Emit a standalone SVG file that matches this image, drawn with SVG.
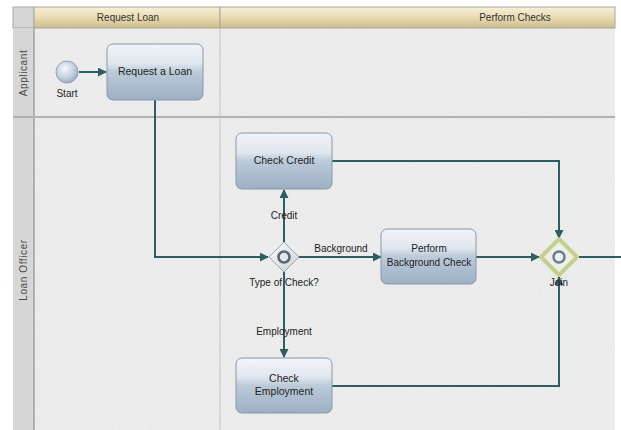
<svg xmlns="http://www.w3.org/2000/svg" width="621" height="430" viewBox="0 0 621 430">
<defs>
<linearGradient id="hdr" x1="0" y1="0" x2="0" y2="1">
<stop offset="0" stop-color="#f7f0d8"/><stop offset="0.5" stop-color="#e9dcb2"/><stop offset="1" stop-color="#cdbb8a"/>
</linearGradient>
<linearGradient id="task" x1="0" y1="0" x2="0" y2="1">
<stop offset="0" stop-color="#f2f5f8"/><stop offset="0.35" stop-color="#dfe6ee"/><stop offset="0.5" stop-color="#bccad9"/><stop offset="1" stop-color="#9cafc4"/>
</linearGradient>
<radialGradient id="startg" cx="0.4" cy="0.35" r="0.7">
<stop offset="0" stop-color="#f4f7fa"/><stop offset="0.6" stop-color="#c3d0de"/><stop offset="1" stop-color="#93a6bb"/>
</radialGradient>
<linearGradient id="gw" x1="0" y1="0" x2="1" y2="1">
<stop offset="0" stop-color="#ffffff"/><stop offset="1" stop-color="#c9d0d6"/>
</linearGradient>
<filter id="noise" x="0" y="0" width="100%" height="100%">
<feTurbulence type="fractalNoise" baseFrequency="0.9" numOctaves="2" seed="3" result="n"/>
<feColorMatrix in="n" type="matrix" values="0 0 0 0 1  0 0 0 0 1  0 0 0 0 1  0 0 0 1.2 -0.5" result="w"/>
<feComposite in="w" in2="SourceGraphic" operator="in"/>
</filter>
<marker id="arr" viewBox="0 0 10 10" refX="9" refY="5" markerWidth="4.5" markerHeight="4.5" orient="auto">
<path d="M0,0 L10,5 L0,10 z" fill="#2e5d62"/>
</marker>
</defs>
<style>
text{font-family:"Liberation Sans",Arial,sans-serif;font-size:10px;fill:#222;text-anchor:middle}
.hdrt{font-size:10px;fill:#333}
.lane{font-size:10px;fill:#4a4a4a;letter-spacing:0.6px}
.tt{font-size:10.5px}
.task{fill:url(#task);stroke:#8797a8;stroke-width:1}
.conn{fill:none;stroke:#2e5d62;stroke-width:2}
.arrow{marker-end:url(#arr)}
</style>
<rect x="0" y="0" width="621" height="430" fill="#ffffff"/>
<rect x="13" y="7" width="602" height="423" fill="#eaeaea"/>
<rect x="34" y="28" width="581" height="402" fill="#ececec" filter="url(#noise)" opacity="0.6"/>
<rect x="13" y="7" width="21" height="21" fill="#d6d6d6" stroke="#a8a8a8" stroke-width="1"/>
<rect x="34" y="7" width="186" height="21" fill="url(#hdr)" stroke="#a8a59a" stroke-width="1"/>
<rect x="220" y="7" width="395" height="21" fill="url(#hdr)" stroke="#a8a59a" stroke-width="1"/>
<text class="hdrt" x="128" y="21">Request Loan</text>
<text class="hdrt" x="515" y="21">Perform Checks</text>
<rect x="13" y="28" width="21" height="402" fill="#d6d6d6"/>
<line x1="34" y1="28" x2="34" y2="430" stroke="#a0a0a0" stroke-width="1.5"/>
<text class="lane" transform="translate(27,73) rotate(-90)">Applicant</text>
<text class="lane" transform="translate(27,270) rotate(-90)">Loan Officer</text>
<line x1="13" y1="117" x2="615" y2="117" stroke="#b2b2b2" stroke-width="2"/>
<line x1="220" y1="28" x2="220" y2="430" stroke="#c4c4c4" stroke-width="1"/>
<g id="connectors">
<path class="conn arrow" d="M79,72 H106"/>
<path class="conn arrow" d="M155,100 V257 H268"/>
<path class="conn arrow" d="M284,242 V190"/>
<path class="conn arrow" d="M299,257 H381"/>
<path class="conn arrow" d="M284,272 V357"/>
<path class="conn arrow" d="M332,161 H559 V238"/>
<path class="conn arrow" d="M476,257 H539"/>
<path class="conn arrow" d="M332,386 H559 V277"/>
<path class="conn" d="M579,257 H621"/>
<text x="284" y="219">Credit</text>
<text x="341" y="252">Background</text>
<text x="284" y="335">Employment</text>
</g>
<g id="start">
<circle cx="67" cy="72" r="11" fill="url(#startg)" stroke="#8fa0b2" stroke-width="1"/>
<text x="67" y="97">Start</text>
</g>
<g id="request-loan">
<rect class="task" x="107" y="44" width="96" height="56" rx="6"/>
<text class="tt" x="155" y="75">Request a Loan</text>
</g>
<g id="check-credit">
<rect class="task" x="236" y="133" width="96" height="56" rx="6"/>
<text class="tt" x="284" y="164">Check Credit</text>
</g>
<g id="type-of-check">
<polygon points="284,242 299,257 284,272 269,257" fill="url(#gw)" stroke="#9aa6b0" stroke-width="1"/>
<circle cx="284" cy="257" r="5.5" fill="none" stroke="#5a6570" stroke-width="2.6"/>
<text x="284" y="286">Type of Check?</text>
</g>
<g id="background-check">
<rect class="task" x="381" y="229" width="95" height="55" rx="6"/>
<text x="429" y="252">Perform</text>
<text x="429" y="266">Background Check</text>
</g>
<g id="check-employment">
<rect class="task" x="236" y="358" width="96" height="55" rx="6"/>
<text class="tt" x="284" y="382">Check</text>
<text class="tt" x="284" y="395">Employment</text>
</g>
<g id="join">
<polygon points="559,239 577,257 559,275 541,257" fill="#eef0e8" stroke="#c6d08e" stroke-width="4" stroke-linejoin="round"/>
<circle cx="559" cy="257" r="5.5" fill="none" stroke="#6c7896" stroke-width="2.4"/>
<text x="559" y="286">Join</text>
</g>
</svg>
